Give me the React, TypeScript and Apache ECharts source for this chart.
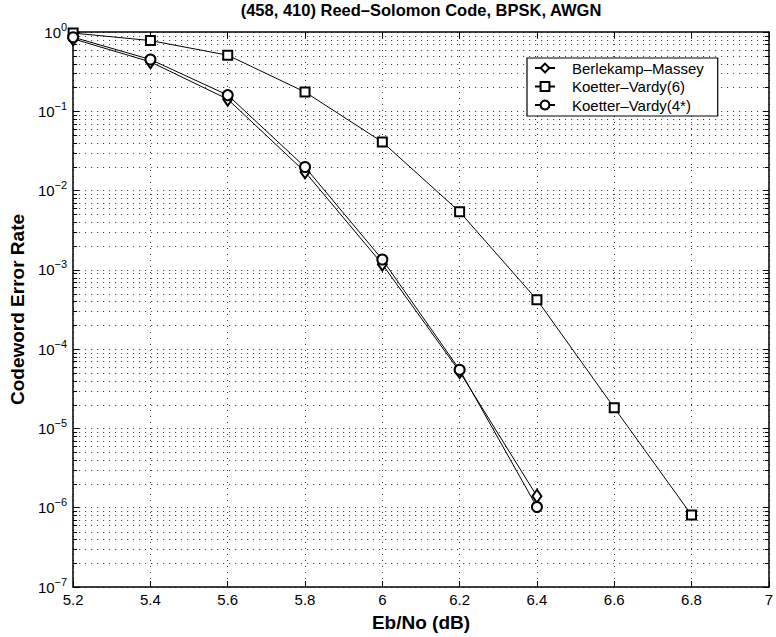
import React, { useEffect, useRef } from "react";
import * as echarts from "echarts";

// Eb/No (dB) sample points
const ebNoKV6 = [5.2, 5.4, 5.6, 5.8, 6.0, 6.2, 6.4, 6.6, 6.8];
const ebNoShort = [5.2, 5.4, 5.6, 5.8, 6.0, 6.2, 6.4];

// Codeword error rates
const berlekampMassey = [0.82, 0.42, 0.142, 0.0172, 0.00118, 5.2e-5, 1.4e-6];
const koetterVardy6 = [0.97, 0.78, 0.51, 0.175, 0.041, 0.0054, 4.2e-4, 1.82e-5, 8.1e-7];
const koetterVardy4 = [0.86, 0.45, 0.16, 0.0198, 0.00135, 5.5e-5, 1.02e-6];

const seriesNames = ["Berlekamp–Massey", "Koetter–Vardy(6)", "Koetter–Vardy(4*)"];

// Axis settings
const xMin = 5.2;
const xMax = 7;
const xStep = 0.2;
const yMin = 1e-7;
const yMax = 1;
const minorDecades = [-7, -6, -5, -4, -3, -2, -1];
const minorMultipliers = [2, 3, 4, 5, 6, 7, 8, 9];

const FONT = "Liberation Sans, Arial, Helvetica, sans-serif";

function pairs(xs: number[], ys: number[]) {
  return ys.map((y, i) => [xs[i], y]);
}

export default function App() {
  const ref = useRef<HTMLDivElement>(null);

  useEffect(() => {
    if (!ref.current) return;
    const chart = echarts.init(ref.current, undefined, { renderer: "svg" });

    const minorValues: number[] = [];
    minorDecades.forEach((d) =>
      minorMultipliers.forEach((m) => minorValues.push(m * Math.pow(10, d)))
    );

    const gridDash = {
      color: "#333",
      width: 1,
      type: [1, 5] as any,
    };

    const expLabel = (v: number) => {
      const e = Math.round(Math.log10(v));
      const s = e < 0 ? "\u2212" + Math.abs(e) : String(e);
      return `{b|10}{e|${s}}`;
    };

    const richY = {
      b: { fontSize: 15, fontFamily: FONT, color: "#000" },
      e: { fontSize: 11, fontFamily: FONT, color: "#000", padding: [0, 0, 11, 0] },
    };

    const lineSymbolStyle = {
      lineStyle: { color: "#000", width: 1 },
      itemStyle: { color: "#000", borderWidth: 1 },
      showAllSymbol: true,
      z: 3,
    };

    const option: any = {
      animation: false,
      backgroundColor: "#fff",
      graphic: [
        {
          type: "text",
          x: 421,
          y: 1,
          style: {
            text: "(458, 410) Reed–Solomon Code, BPSK, AWGN",
            font: `bold 16.5px ${FONT}`,
            fill: "#000",
            align: "center",
            verticalAlign: "top",
          },
        },
      ],
      grid: { left: 68, top: 32, right: 2, bottom: 48, containLabel: false },
      legend: {
        show: true,
        orient: "vertical",
        left: 527,
        top: 58,
        backgroundColor: "#fff",
        borderColor: "#000",
        borderWidth: 1.2,
        borderRadius: 0,
        padding: [2, 14, 3, 7],
        itemWidth: 20,
        itemHeight: 11,
        itemGap: 2.5,
        textStyle: {
          fontSize: 15,
          lineHeight: 16,
          fontFamily: FONT,
          color: "#000",
          padding: [0, 0, 0, 12],
        },
        data: seriesNames,
      },
      xAxis: [
        {
          type: "value",
          min: xMin,
          max: xMax,
          interval: xStep,
          name: "Eb/No (dB)",
          nameLocation: "middle",
          nameGap: 26,
          nameTextStyle: { fontSize: 19, fontWeight: "bold", fontFamily: FONT, color: "#000" },
          axisLine: { show: true, onZero: false, lineStyle: { color: "#000", width: 1.5 } },
          axisTick: { show: true, inside: true, length: 6, lineStyle: { color: "#000" } },
          axisLabel: {
            fontSize: 15,
            fontFamily: FONT,
            color: "#000",
            margin: 5,
            formatter: (v: number) => String(Number(v.toFixed(1))),
          },
          splitLine: { show: true, lineStyle: gridDash },
        },
        {
          type: "value",
          position: "top",
          min: xMin,
          max: xMax,
          interval: xStep,
          axisLine: { show: true, onZero: false, lineStyle: { color: "#000", width: 1.5 } },
          axisTick: { show: true, inside: true, length: 6, lineStyle: { color: "#000" } },
          axisLabel: { show: false },
          splitLine: { show: false },
        },
      ],
      yAxis: [
        {
          type: "log",
          logBase: 10,
          min: yMin,
          max: yMax,
          name: "Codeword Error Rate",
          nameLocation: "middle",
          nameGap: 41,
          nameRotate: 90,
          nameTextStyle: { fontSize: 19, fontWeight: "bold", fontFamily: FONT, color: "#000" },
          axisLine: { show: true, onZero: false, lineStyle: { color: "#000", width: 1.5 } },
          axisTick: { show: true, inside: true, length: 6, lineStyle: { color: "#000" } },
          axisLabel: {
            margin: 6,
            formatter: expLabel,
            rich: richY,
          },
          splitLine: { show: true, lineStyle: gridDash },
        },
        {
          type: "log",
          logBase: 10,
          position: "right",
          min: yMin,
          max: yMax,
          axisLine: { show: true, onZero: false, lineStyle: { color: "#000", width: 1.5 } },
          axisTick: { show: true, inside: true, length: 6, lineStyle: { color: "#000" } },
          axisLabel: { show: false },
          splitLine: { show: false },
        },
      ],
      series: [
        {
          name: "minor-grid",
          type: "custom",
          silent: true,
          z: 1,
          encode: { x: 0, y: 1 },
          data: minorValues.map((v) => [xMin, v]),
          renderItem: (params: any, api: any) => {
            const v = api.value(1);
            const a = api.coord([xMin, v]);
            const b = api.coord([xMax, v]);
            const y = Math.round(a[1]) + 0.5;
            return {
              type: "group",
              children: [
                {
                  type: "line",
                  shape: { x1: a[0], y1: y, x2: b[0], y2: y },
                  style: { stroke: "#333", lineWidth: 1, lineDash: [1, 5] },
                },
                {
                  type: "line",
                  shape: { x1: a[0], y1: y, x2: a[0] + 4, y2: y },
                  style: { stroke: "#000", lineWidth: 1 },
                },
                {
                  type: "line",
                  shape: { x1: b[0] - 4, y1: y, x2: b[0], y2: y },
                  style: { stroke: "#000", lineWidth: 1 },
                },
              ],
            };
          },
        },
        {
          name: seriesNames[0],
          type: "line",
          data: pairs(ebNoShort, berlekampMassey),
          symbol: "emptyDiamond",
          symbolSize: [9, 13],
          ...lineSymbolStyle,
        },
        {
          name: seriesNames[1],
          type: "line",
          data: pairs(ebNoKV6, koetterVardy6),
          symbol: "emptyRect",
          symbolSize: 9,
          ...lineSymbolStyle,
        },
        {
          name: seriesNames[2],
          type: "line",
          data: pairs(ebNoShort, koetterVardy4),
          symbol: "emptyCircle",
          symbolSize: 10,
          ...lineSymbolStyle,
        },
      ],
    };

    chart.setOption(option);
    return () => chart.dispose();
  }, []);

  return (
    <div
      ref={ref}
      style={{ position: "absolute", left: 0, top: 0, width: 776, height: 637, background: "#fff" }}
    />
  );
}
